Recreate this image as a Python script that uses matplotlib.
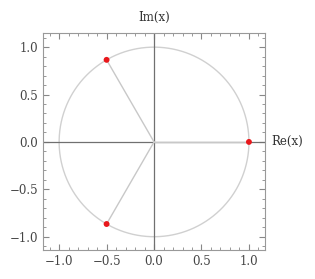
import numpy as np
import matplotlib
matplotlib.use("Agg")
import matplotlib.pyplot as plt
from matplotlib.ticker import MultipleLocator

re_vals = [1.0, -0.5, -0.5]
im_vals = [0.0, 0.866, -0.866]
ticks = [-1.0, -0.5, 0.0, 0.5, 1.0]
tick_labels = ["\u22121.0", "\u22120.5", "0.0", "0.5", "1.0"]

plt.rcParams['font.family'] = ['DejaVu Serif']
fig = plt.figure(figsize=(3.15, 2.79), dpi=100)
ax = fig.add_axes([0.1365, 0.104, 0.705, 0.778])

t = np.linspace(0, 2*np.pi, 400)
ax.plot(np.cos(t), np.sin(t), color='#d0d0d0', lw=1.0, zorder=1)
ax.axhline(0, color='#707070', lw=0.9, zorder=2)
ax.axvline(0, color='#707070', lw=0.9, zorder=2)
for r, i in zip(re_vals, im_vals):
    ax.plot([0, r], [0, i], color='#c8c8c8', lw=1.0, zorder=2)
ax.scatter(re_vals, im_vals, color='#e8171b', s=18, zorder=5, edgecolors='none')

ax.set_xlim(-1.17, 1.17)
ax.set_ylim(-1.14, 1.15)
ax.set_xticks(ticks)
ax.set_xticklabels(tick_labels)
ax.set_yticks(ticks)
ax.set_yticklabels(tick_labels)
ax.xaxis.set_minor_locator(MultipleLocator(0.1))
ax.yaxis.set_minor_locator(MultipleLocator(0.1))
ax.tick_params(which='both', direction='in', top=True, right=True, color='#888888')
ax.tick_params(which='major', length=4, width=0.8, labelsize=8.5, labelcolor='#444444')
ax.tick_params(which='minor', length=2, width=0.6)
for s in ax.spines.values():
    s.set_color('#999999')
    s.set_linewidth(0.8)

ax.text(1.03, 0.5, "Re(x)", transform=ax.transAxes, ha='left', va='center', fontsize=8.5, color='#333333')
ax.text(0.5, 1.04, "Im(x)", transform=ax.transAxes, ha='center', va='bottom', fontsize=8.5, color='#333333')

fig.savefig("out.png", dpi=100)
